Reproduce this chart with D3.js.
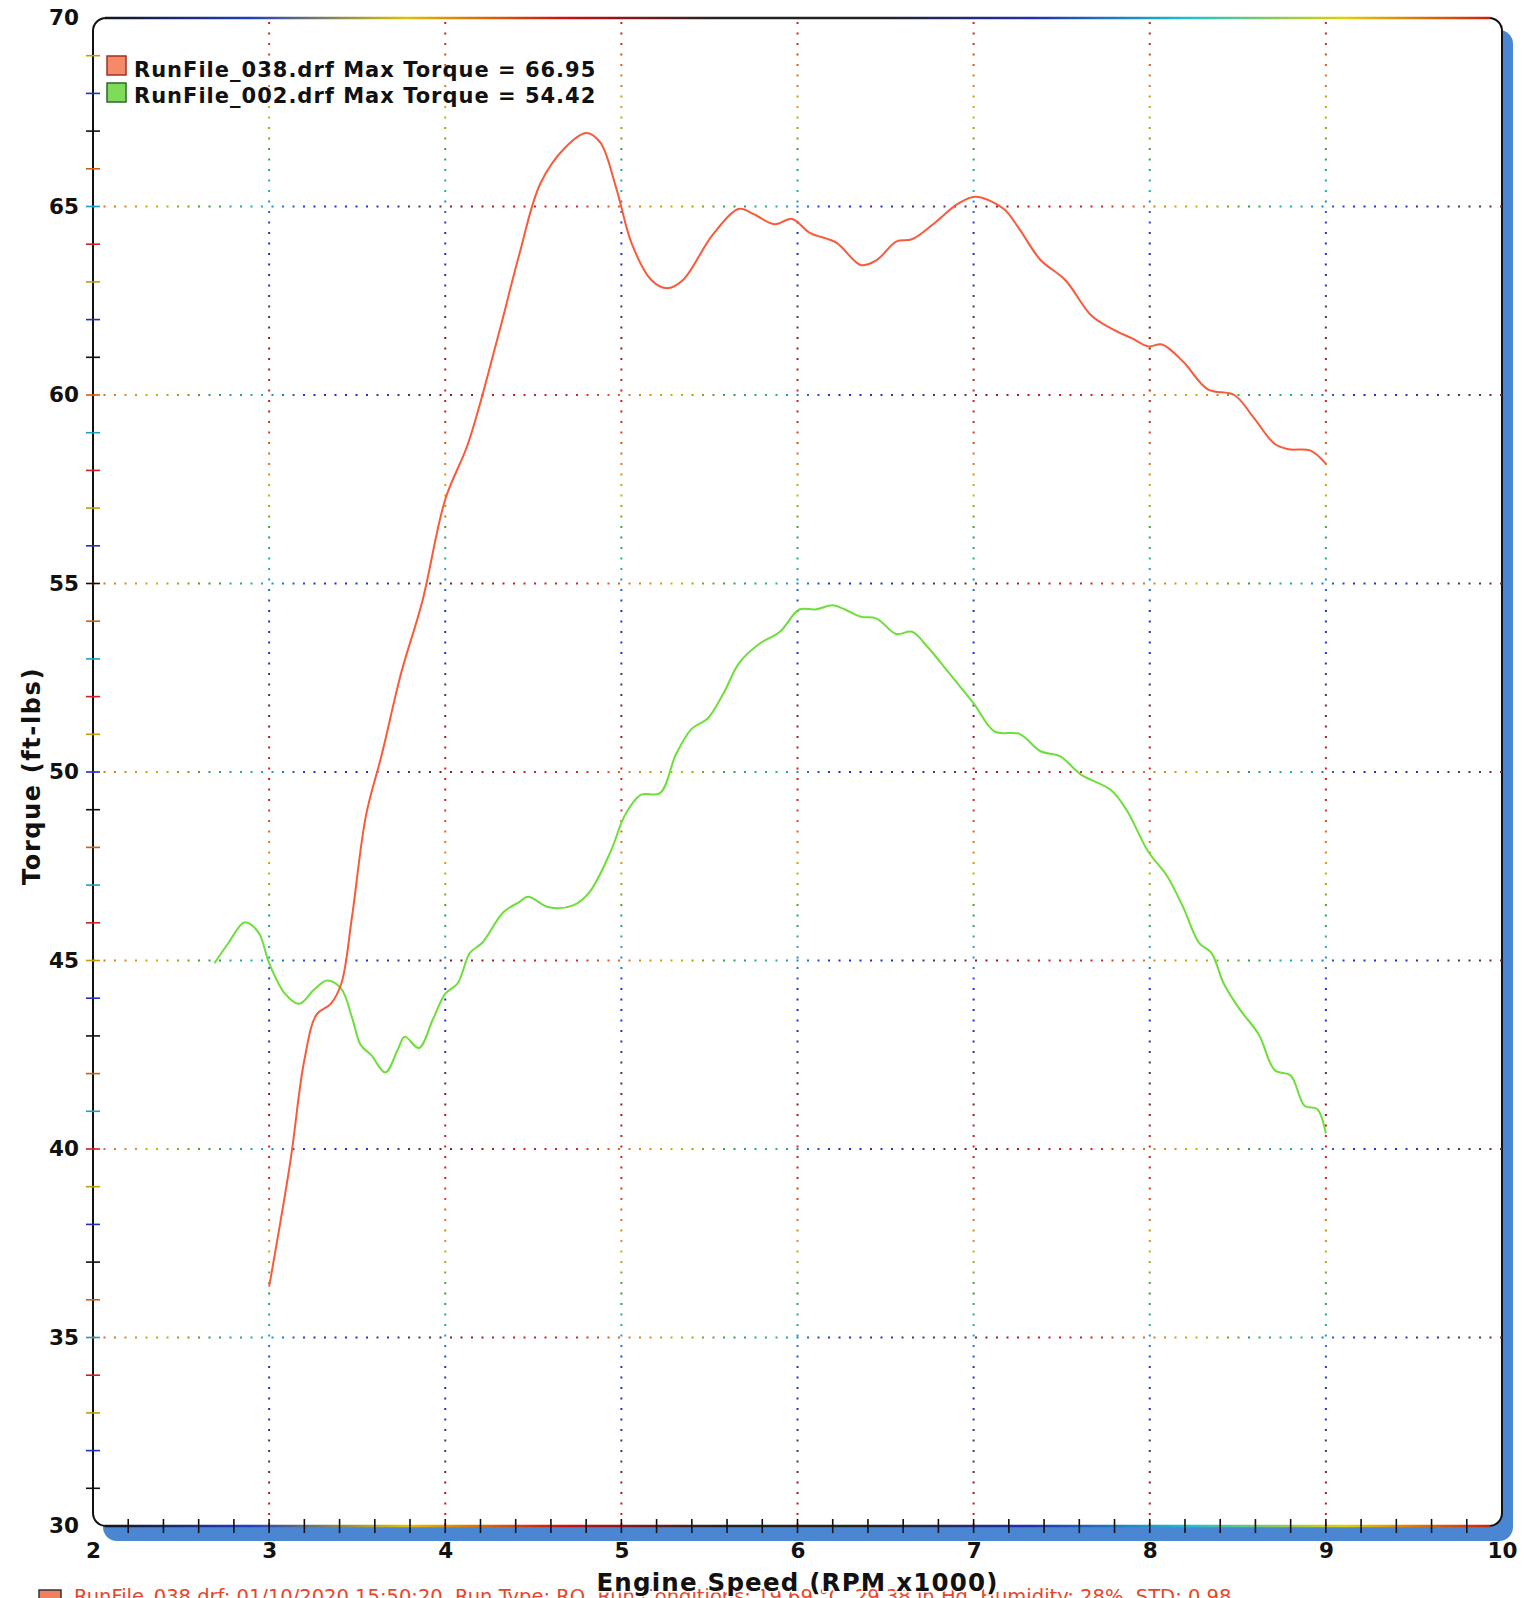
<!DOCTYPE html>
<html>
<head>
<meta charset="utf-8">
<script src="https://cdn.jsdelivr.net/npm/d3@7"></script>
<style>
  body { margin: 0; background: #fff; }
  svg { display: block; font-family: "DejaVu Sans", Verdana, sans-serif; }
</style>
</head>
<body>
<svg id="chart" width="1534" height="1598"></svg>
<script>
// run 038 (red) - rpm x1000, torque ft-lbs
const rpm038 = [3.0, 3.12, 3.2, 3.27, 3.35, 3.41, 3.47, 3.55, 3.64, 3.75, 3.87, 4.0, 4.13, 4.3, 4.42, 4.54, 4.68, 4.8, 4.88, 4.97, 5.06, 5.17, 5.26, 5.35, 5.52, 5.67, 5.75, 5.87, 5.97, 6.07, 6.22, 6.36, 6.45, 6.56, 6.65, 6.77, 6.91, 7.01, 7.17, 7.26, 7.38, 7.52, 7.67, 7.78, 7.9, 7.99, 8.07, 8.19, 8.33, 8.48, 8.59, 8.71, 8.79, 8.91, 9.0];
const tq038 = [36.35, 39.65, 42.36, 43.57, 43.85, 44.39, 46.14, 48.85, 50.47, 52.63, 54.53, 57.23, 58.72, 61.56, 63.72, 65.61, 66.56, 66.95, 66.7, 65.5, 64.0, 63.05, 62.83, 63.05, 64.26, 64.94, 64.8, 64.53, 64.67, 64.3, 64.04, 63.45, 63.58, 64.07, 64.13, 64.53, 65.07, 65.26, 64.94, 64.4, 63.58, 63.05, 62.1, 61.77, 61.5, 61.29, 61.34, 60.88, 60.15, 60.0, 59.4, 58.7, 58.56, 58.53, 58.18];

// run 002 (green)
const rpm002 = [2.69, 2.77, 2.86, 2.94, 3.0, 3.09, 3.17, 3.26, 3.33, 3.41, 3.47, 3.52, 3.58, 3.66, 3.73, 3.77, 3.85, 3.93, 4.0, 4.07, 4.14, 4.21, 4.33, 4.42, 4.47, 4.59, 4.73, 4.82, 4.94, 5.02, 5.11, 5.22, 5.31, 5.4, 5.49, 5.58, 5.67, 5.78, 5.9, 6.01, 6.1, 6.2, 6.27, 6.36, 6.45, 6.56, 6.65, 6.74, 6.86, 7.0, 7.12, 7.26, 7.38, 7.49, 7.61, 7.78, 7.87, 7.99, 8.1, 8.19, 8.28, 8.35, 8.42, 8.51, 8.62, 8.71, 8.8, 8.88, 8.95, 9.0];
const tq002 = [44.93, 45.47, 46.01, 45.74, 44.93, 44.12, 43.85, 44.25, 44.47, 44.25, 43.5, 42.76, 42.49, 42.03, 42.63, 42.98, 42.68, 43.44, 44.12, 44.39, 45.2, 45.47, 46.28, 46.55, 46.69, 46.41, 46.47, 46.82, 47.9, 48.85, 49.39, 49.44, 50.47, 51.15, 51.42, 52.09, 52.9, 53.39, 53.72, 54.31, 54.31, 54.42, 54.31, 54.12, 54.07, 53.66, 53.72, 53.31, 52.63, 51.82, 51.07, 51.01, 50.55, 50.42, 49.93, 49.52, 48.98, 47.9, 47.23, 46.41, 45.47, 45.2, 44.39, 43.71, 43.03, 42.09, 41.95, 41.14, 41.06, 40.41];

const xTicks = [2, 3, 4, 5, 6, 7, 8, 9, 10];
const yTicks = [30, 35, 40, 45, 50, 55, 60, 65, 70];
const legendLabels = ["RunFile_038.drf Max Torque = 66.95", "RunFile_002.drf Max Torque = 54.42"];
const footer = "RunFile_038.drf: 01/10/2020 15:50:20, Run Type: RO, Run Conditions: 19.69 °C, 29.38 in Hg, Humidity: 28%, STD: 0.98";

const svg = d3.select('#chart');
const margin = { top: 18, right: 32, bottom: 72, left: 93 };
const width = +svg.attr('width');
const height = +svg.attr('height');

const x = d3.scaleLinear().domain([2, 10]).range([margin.left, width - margin.right]);
const y = d3.scaleLinear().domain([30, 70]).range([height - margin.bottom, margin.top]);

const x0 = x(2), x1 = x(10), y0 = y(30), y1 = y(70);
const defs = svg.append('defs');

// rainbow-ish dotted grid colours
const rainbow = ['#d42020', '#d42020', '#e07020', '#c8b400', '#30a040', '#20b0c0', '#2030d0', '#2030d0', '#404060', '#802020'];
const grad = (id, dir) => {
  const g = defs.append('linearGradient').attr('id', id)
    .attr('gradientUnits', 'userSpaceOnUse').attr('spreadMethod', 'repeat');
  if (dir === 'h') g.attr('x1', 0).attr('x2', 520).attr('y1', 0).attr('y2', 0);
  else g.attr('x1', 0).attr('x2', 0).attr('y1', 0).attr('y2', 380);
  rainbow.concat(rainbow[0]).forEach((c, i, a) => g.append('stop').attr('offset', i / (a.length - 1)).attr('stop-color', c));
};
grad('gridH', 'h');
grad('gridV', 'v');

const frameGrad = defs.append('linearGradient').attr('id', 'frameGrad')
  .attr('gradientUnits', 'userSpaceOnUse').attr('x1', x0).attr('x2', x1).attr('y1', 0).attr('y2', 0);
['#111', '#2040c0', '#e0c000', '#d01010', '#222', '#222', '#2030b0', '#20c0d0', '#e0d000', '#d01010']
  .forEach((c, i, a) => frameGrad.append('stop').attr('offset', i / (a.length - 1)).attr('stop-color', c));

// footer (cut off by page edge, sits under the axis title)
svg.append('rect').attr('x', 39).attr('y', 1590).attr('width', 22).attr('height', 14)
  .attr('fill', '#f08060').attr('stroke', '#333').attr('stroke-width', 1.5);
svg.append('text')
  .attr('x', 74).attr('y', 1603)
  .attr('font-size', 19.5).attr('fill', '#e8452a')
  .text(footer);

// blue shadow + frame
svg.append('rect')
  .attr('x', x0 + 10).attr('y', y1 + 12).attr('width', x1 - x0 + 1).attr('height', y0 - y1 + 3)
  .attr('rx', 14).attr('fill', '#4a86d2');
svg.append('rect')
  .attr('x', x0).attr('y', y1).attr('width', x1 - x0).attr('height', y0 - y1)
  .attr('rx', 13).attr('fill', '#fff').attr('stroke', '#111').attr('stroke-width', 2);
svg.append('line')
  .attr('x1', x0 + 12).attr('x2', x1 - 12).attr('y1', y1).attr('y2', y1)
  .attr('stroke', 'url(#frameGrad)').attr('stroke-width', 2.5);
svg.append('line')
  .attr('x1', x0 + 12).attr('x2', x1 - 12).attr('y1', y0).attr('y2', y0)
  .attr('stroke', 'url(#frameGrad)').attr('stroke-width', 2.5);

// grid
svg.append('g').selectAll('line')
  .data(xTicks.slice(1, -1)).enter().append('line')
  .attr('x1', d => x(d)).attr('x2', d => x(d)).attr('y1', y1 + 4).attr('y2', y0)
  .attr('stroke', 'url(#gridV)').attr('stroke-width', 2)
  .attr('stroke-dasharray', '2 8.5');
svg.append('g').selectAll('line')
  .data(yTicks.slice(1, -1)).enter().append('line')
  .attr('x1', x0).attr('x2', x1).attr('y1', d => y(d)).attr('y2', d => y(d))
  .attr('stroke', 'url(#gridH)').attr('stroke-width', 2)
  .attr('stroke-dasharray', '2 8.5');

// minor ticks
const tickCols = ['#111', '#2030c0', '#c0a000', '#d02020', '#20a0c0', '#d06010'];
svg.append('g').selectAll('line')
  .data(d3.range(31, 70)).enter().append('line')
  .attr('x1', x0 - 7).attr('x2', x0 + 7).attr('y1', d => y(d)).attr('y2', d => y(d))
  .attr('stroke', (d, i) => tickCols[i % tickCols.length]).attr('stroke-width', 1.6);
svg.append('g').selectAll('line')
  .data(d3.range(1, 40).map(i => 2 + i * 0.2)).enter().append('line')
  .attr('x1', d => x(d)).attr('x2', d => x(d)).attr('y1', y0 - 7).attr('y2', y0 + 7)
  .attr('stroke', '#111').attr('stroke-width', 1.6);

// axes (labels only)
const yAxis = svg.append('g')
  .attr('transform', `translate(${x0},0)`)
  .call(d3.axisLeft(y).tickValues(yTicks).tickSize(0).tickPadding(14));
const xAxis = svg.append('g')
  .attr('transform', `translate(0,${y0})`)
  .call(d3.axisBottom(x).tickValues(xTicks).tickSize(0).tickPadding(17));
[yAxis, xAxis].forEach(a => {
  a.select('.domain').remove();
  a.selectAll('text').attr('font-size', 21.5).attr('font-weight', 'bold')
    .attr('fill', '#111').attr('font-family', '"DejaVu Sans", Verdana, sans-serif');
});

// curves
const line = d3.line()
  .x(d => x(d[0]))
  .y(d => y(d[1]))
  .curve(d3.curveCatmullRom.alpha(0.5));

svg.append('path')
  .datum(d3.zip(rpm002, tq002))
  .attr('fill', 'none').attr('stroke', '#6ede3a').attr('stroke-width', 2)
  .attr('d', line);
svg.append('path')
  .datum(d3.zip(rpm038, tq038))
  .attr('fill', 'none').attr('stroke', '#fa5a3a').attr('stroke-width', 2)
  .attr('d', line);

// legend
const legendCols = [['#f58a6a', '#a03020'], ['#7edc5a', '#2a6a2a']];
const lg = svg.append('g').attr('transform', 'translate(107,56)');
legendLabels.forEach((t, i) => {
  lg.append('rect').attr('x', 0).attr('y', i * 27).attr('width', 19).attr('height', 19)
    .attr('fill', legendCols[i][0]).attr('stroke', legendCols[i][1]).attr('stroke-width', 1.5);
  lg.append('text').attr('x', 27).attr('y', i * 26 + 21)
    .attr('font-size', 21).attr('letter-spacing', 1).attr('font-weight', 'bold').attr('fill', '#111').text(t);
});

// axis titles
svg.append('text')
  .attr('x', (x0 + x1) / 2).attr('y', 1591)
  .attr('text-anchor', 'middle').attr('font-size', 24.5).attr('letter-spacing', 1.2)
  .attr('font-weight', 'bold').attr('fill', '#111')
  .attr('stroke', '#fff').attr('stroke-width', 3).attr('paint-order', 'stroke')
  .text('Engine Speed (RPM x1000)');
svg.append('text')
  .attr('transform', `translate(40,${(y0 + y1) / 2 + 4}) rotate(-90)`)
  .attr('text-anchor', 'middle').attr('font-size', 24).attr('letter-spacing', 1.6)
  .attr('font-weight', 'bold').attr('fill', '#111')
  .text('Torque (ft-lbs)');
</script>
</body>
</html>
